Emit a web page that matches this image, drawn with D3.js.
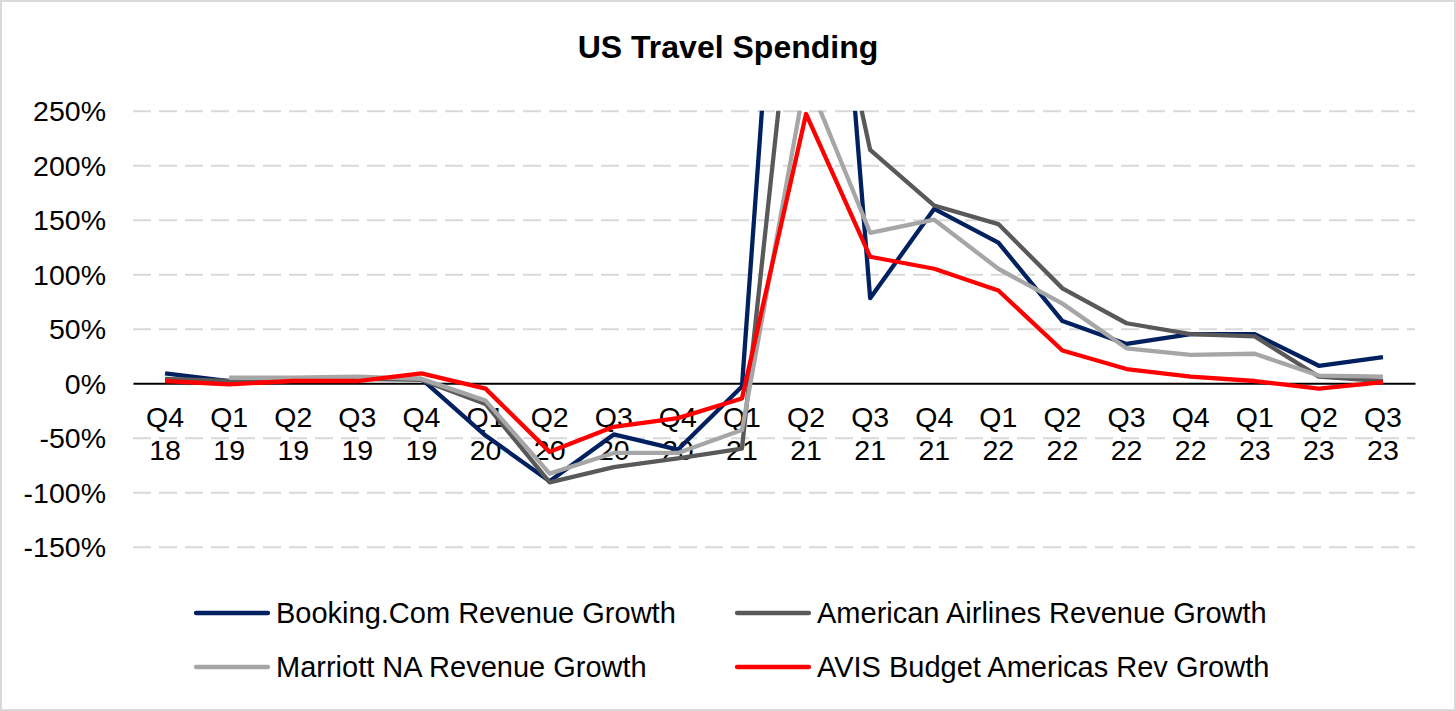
<!DOCTYPE html>
<html>
<head>
  <meta charset="utf-8">
  <script src="https://d3js.org/d3.v7.min.js"></script>
  <style>
    body { margin: 0; background: #fff; }
    text { font-family: "Liberation Sans", Arial, sans-serif; fill: #000; }
    .grid line { stroke: #d9d9d9; stroke-width: 2; stroke-dasharray: 18 8; }
    .grid path { display: none; }
    .line { fill: none; stroke-width: 4.3; stroke-linejoin: round; }
  </style>
</head>
<body>
  <svg id="chart" width="1456" height="711"></svg>
  <script>
    var quarters = ['Q4 18', 'Q1 19', 'Q2 19', 'Q3 19', 'Q4 19', 'Q1 20', 'Q2 20', 'Q3 20', 'Q4 20', 'Q1 21',
      'Q2 21', 'Q3 21', 'Q4 21', 'Q1 22', 'Q2 22', 'Q3 22', 'Q4 22', 'Q1 23', 'Q2 23', 'Q3 23'];

    var booking = [9, 2, 3, 4, 4, -48, -90, -47, -61, -3, 810, 78, 160, 129, 57, 36, 45, 45, 16, 24];
    var american = [4, 2, 3, 4, 3, -19, -91, -77, -69, -60, 485, 214, 163, 146, 87, 55, 45, 43, 6, 2];
    var marriott = [null, 5, 5, 6, 4, -16, -83, -64, -64, -43, 282, 138, 150, 105, 73, 32, 26, 27, 7, 6];
    var avis = [2, -1, 2, 2, 9, -5, -63, -40, -32, -14, 247, 116, 105, 85, 30, 13, 6, 2, -5, 1];

    var yTicks = [-150, -100, -50, 0, 50, 100, 150, 200, 250];

    var series = [
      { name: 'Booking.Com Revenue Growth', values: booking, color: '#002060' },
      { name: 'American Airlines Revenue Growth', values: american, color: '#595959' },
      { name: 'Marriott NA Revenue Growth', values: marriott, color: '#a6a6a6' },
      { name: 'AVIS Budget Americas Rev Growth', values: avis, color: '#ff0000' }
    ];

    var chart = d3.select('#chart');
    var margin = { top: 110.7, right: 41, bottom: 164.3, left: 133 };
    var width = 1456 - margin.left - margin.right;
    var height = 711 - margin.top - margin.bottom;

    // outer frame
    chart.append('rect')
      .attr('x', 1).attr('y', 1)
      .attr('width', 1454).attr('height', 709)
      .attr('fill', '#fff')
      .attr('stroke', '#d9d9d9')
      .attr('stroke-width', 2);

    chart.append('text')
      .attr('x', 728)
      .attr('y', 58)
      .attr('text-anchor', 'middle')
      .style('font-size', '32px')
      .style('font-weight', 'bold')
      .text('US Travel Spending');

    var x = d3.scaleBand()
      .domain(quarters)
      .range([0, width]);

    var y = d3.scaleLinear()
      .domain([-150, 250])
      .range([height, 0]);

    var group = chart.append('g')
      .attr('transform', 'translate(' + margin.left + ', ' + margin.top + ')');

    group.append('defs').append('clipPath')
      .attr('id', 'plot-clip')
      .append('rect')
      .attr('x', 0).attr('y', 0)
      .attr('width', width).attr('height', height);

    // dashed gridlines
    group.append('g')
      .attr('class', 'grid')
      .call(d3.axisLeft(y).tickValues(yTicks.filter((t) => t !== 0)).tickSize(-width).tickFormat(''));

    // y tick labels
    var yAxis = group.append('g')
      .call(d3.axisLeft(y).tickValues(yTicks).tickSize(0).tickPadding(27).tickFormat((d) => d + '%'));
    yAxis.select('.domain').remove();
    yAxis.selectAll('text')
      .style('font-size', '28.5px')
      .attr('dy', '0.36em');

    // x axis sitting on zero
    var xAxis = group.append('g')
      .attr('transform', 'translate(0, ' + y(0) + ')')
      .call(d3.axisBottom(x).tickSize(0).tickFormat(''));
    xAxis.select('.domain')
      .attr('stroke', '#000')
      .attr('stroke-width', 2);

    xAxis.selectAll('.tick').each(function (d) {
      var parts = d.split(' ');
      var t = d3.select(this).select('text')
        .attr('y', 0)
        .attr('dy', null)
        .style('font-size', '28.5px');
      t.append('tspan').attr('x', 0).attr('y', 44).text(parts[0]);
      t.append('tspan').attr('x', 0).attr('y', 77).text(parts[1]);
    });

    var line = d3.line()
      .defined((d) => d != null)
      .x((d, i) => x(quarters[i]) + x.bandwidth() / 2)
      .y((d) => y(d));

    var lines = group.append('g')
      .attr('clip-path', 'url(#plot-clip)');

    series.forEach((s) => {
      lines.append('path')
        .datum(s.values)
        .attr('class', 'line')
        .attr('stroke', s.color)
        .attr('d', line);
    });

    // legend
    var legendCols = [196, 737];
    var legendRows = [613, 667];
    series.forEach((s, i) => {
      var lx = legendCols[i % 2];
      var ly = legendRows[Math.floor(i / 2)];
      var item = chart.append('g')
        .attr('transform', 'translate(' + lx + ', ' + ly + ')');
      item.append('line')
        .attr('x1', 0).attr('x2', 72)
        .attr('y1', 0).attr('y2', 0)
        .attr('stroke', s.color)
        .attr('stroke-width', 4.3)
        .attr('stroke-linecap', 'round');
      item.append('text')
        .attr('x', 80)
        .attr('y', 0)
        .attr('dy', '0.36em')
        .style('font-size', '29px')
        .text(s.name);
    });
  </script>
</body>
</html>
